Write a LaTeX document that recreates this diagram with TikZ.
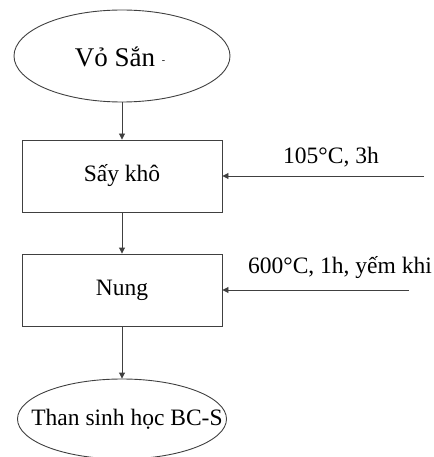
\documentclass[tikz,border=0pt]{standalone}
\usepackage{fontspec}
\setmainfont{Liberation Serif}
\usetikzlibrary{shapes.geometric,arrows.meta}
\begin{document}
\begin{tikzpicture}[x=1pt,y=-1pt,
  line/.style={draw=black!75, line width=0.9pt},
  oval/.style={ellipse, line, inner sep=0pt},
  procbox/.style={rectangle, line, minimum width=200pt, minimum height=72pt, inner sep=0pt},
  txt/.style={font=\fontsize{23.5}{26}\selectfont, inner sep=0pt},
  arr/.style={line, -{Triangle[length=6pt,width=6pt]}}]
\useasboundingbox (0,0) rectangle (433,457);
\node[oval, minimum width=216pt, minimum height=92pt] (v) at (122,56) {};
\node[txt, font=\fontsize{27}{30}\selectfont] (vt) at (120,57) {Vỏ Sắn {\fontsize{10}{12}\selectfont\raisebox{3pt}{-}}};
\node[procbox, txt] (s) at (122,176) {Sấy khô};
\node[procbox, txt] (n) at (122,290) {Nung};
\node[oval, minimum width=209pt, minimum height=80pt] (t) at (122,419) {};
\node[txt] (tt) at (127,419) {Than sinh học BC-S};
\coordinate (i1) at (424,176);
\coordinate (i2) at (409,290);
\node[txt] (l1) at (331,157) {105°C, 3h};
\node[txt] (l2) at (340,268) {600°C, 1h, yếm khi};
\draw[arr] (v) -- (s);
\draw[arr] (s) -- (n);
\draw[arr] (n) -- (t);
\draw[arr] (i1) -- (s.east);
\draw[arr] (i2) -- (n.east);
\end{tikzpicture}
\end{document}
